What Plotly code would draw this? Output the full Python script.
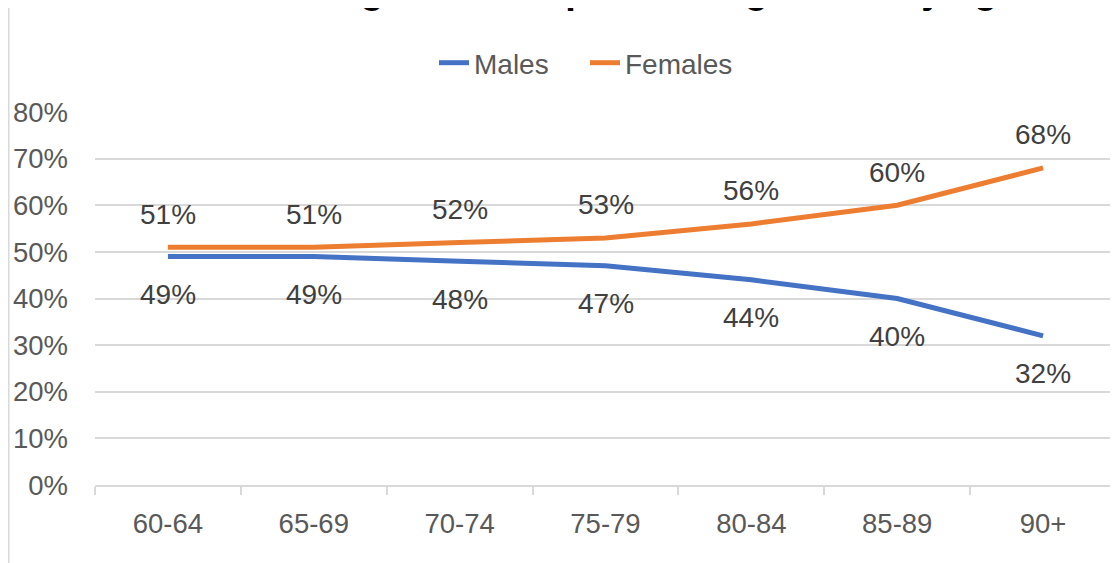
import plotly.graph_objects as go

categories = ["60-64", "65-69", "70-74", "75-79", "80-84", "85-89", "90+"]
males = [49, 49, 48, 47, 44, 40, 32]
females = [51, 51, 52, 53, 56, 60, 68]
title_text = "Percentage of older persons aged 60+ by age"

FONT = "Liberation Sans, Arial, sans-serif"
BLUE = "#4472C4"
ORANGE = "#ED7D31"
GRID = "#D9D9D9"

# page has an 8px body margin, so the figure is sized/offset for that
W, H = 1110, 555
L, R, T, B = 87, 2, 104, 78
ph = H - T - B
pw = W - L - R

fig = go.Figure()
fig.add_trace(go.Scatter(x=categories, y=males, name="Males", mode="lines",
                         line=dict(color=BLUE, width=5)))
fig.add_trace(go.Scatter(x=categories, y=females, name="Females", mode="lines",
                         line=dict(color=ORANGE, width=5)))

annotations = []
for c, v in zip(categories, females):
    annotations.append(dict(x=c, y=v, xref="x", yref="y", text=f"{v}%", showarrow=False,
                            yshift=33, font=dict(family=FONT, size=28, color="#404040")))
for c, v in zip(categories, males):
    annotations.append(dict(x=c, y=v, xref="x", yref="y", text=f"{v}%", showarrow=False,
                            yshift=-38, font=dict(family=FONT, size=28, color="#404040")))

# title (cut off by the top edge in the reference)
annotations.append(dict(x=0.503, y=1 + (T - 4) / ph,
                        xref="paper", yref="paper", yanchor="bottom", xanchor="center",
                        text=f"<b>{title_text}</b>", showarrow=False, borderpad=0,
                        font=dict(family=FONT, size=38, color="#000000")))

fig.update_layout(
    width=W, height=H,
    margin=dict(l=L, r=R, t=T, b=B, autoexpand=False),
    paper_bgcolor="white", plot_bgcolor="white",
    font=dict(family=FONT, size=27.5, color="#595959"),
    showlegend=True,
    legend=dict(orientation="h", xref="container", yref="container",
                x=426 / W, xanchor="left", y=1 - 55 / H, yanchor="middle",
                font=dict(family=FONT, size=28, color="#595959"),
                entrywidth=106, entrywidthmode="pixels",
                bgcolor="rgba(0,0,0,0)"),
    annotations=annotations,
    shapes=[dict(type="line", xref="paper", yref="paper",
                 x0=(0.75 - L) / pw, x1=(0.75 - L) / pw,
                 y0=(H - B - H) / ph, y1=(H - B + 1) / ph,
                 line=dict(color=GRID, width=1.5))],
)

fig.update_xaxes(type="category", range=[-0.5, 6.5], showline=True, linecolor=GRID,
                 linewidth=1.5, ticks="outside", tickson="boundaries", ticklen=8,
                 tickcolor=GRID, tickwidth=1.5, showgrid=False,
                 ticklabelstandoff=13,
                 tickfont=dict(family=FONT, size=27.5, color="#595959"))
fig.update_yaxes(range=[0, 80], dtick=10, ticksuffix="%", showgrid=True,
                 gridcolor=GRID, gridwidth=1.5, zeroline=False, showline=False,
                 ticks="", ticklabelstandoff=26,
                 tickfont=dict(family=FONT, size=27.5, color="#595959"))

fig.write_html("out.html")
